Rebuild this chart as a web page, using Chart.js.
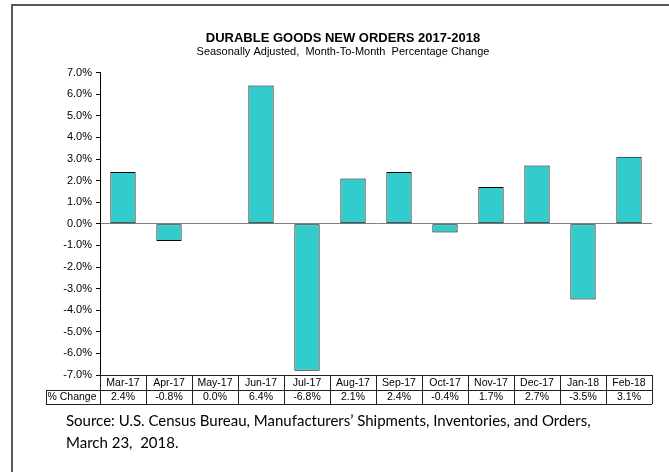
<!DOCTYPE html>
<html>
<head>
<meta charset="utf-8">
<script src="https://cdn.jsdelivr.net/npm/chart.js@4.4.0/dist/chart.umd.min.js"></script>
<style>
    html, body { margin: 0; padding: 0; background: #fff; overflow: hidden; }
    #wrap { position: relative; width: 669px; height: 472px; }
    #frame { position: absolute; left: 11px; top: 4px; width: 720px; height: 520px; border: 2px solid #595959; box-sizing: border-box; }
    #chart { position: absolute; left: 0; top: 0; }
</style>
</head>
<body>
<div id="wrap">
    <div id="frame"></div>
    <canvas id="chart" width="669" height="472"></canvas>
</div>
<script>
const months = ['Mar-17', 'Apr-17', 'May-17', 'Jun-17', 'Jul-17', 'Aug-17', 'Sep-17', 'Oct-17', 'Nov-17', 'Dec-17', 'Jan-18', 'Feb-18'];
const pctChange = [2.4, -0.8, 0.0, 6.4, -6.8, 2.1, 2.4, -0.4, 1.7, 2.7, -3.5, 3.1];
const rowLabel = '% Change';
const titleText = 'DURABLE GOODS NEW ORDERS 2017-2018';
const subtitleText = 'Seasonally Adjusted,  Month-To-Month  Percentage Change';
const sourceLines = [
    'Source: U.S. Census Bureau, Manufacturers\u2019 Shipments, Inventories, and Orders,',
    'March 23,  2018.'
];

const arial = 'Arial, "Liberation Sans", sans-serif';

// data table under the plot + source note
const tablePlugin = {
    id: 'dataTable',
    afterDraw(chart) {
        const ctx = chart.ctx;
        const x = chart.scales.x;
        const area = chart.chartArea;
        const colW = x.getPixelForValue(1) - x.getPixelForValue(0);
        const left = area.left;
        const right = area.right;
        const top = Math.round(area.bottom);
        const mid = top + 15;
        const bottom = mid + 14;
        const labelLeft = 46;

        ctx.save();
        ctx.strokeStyle = '#222';
        ctx.lineWidth = 1;
        ctx.beginPath();
        // horizontal lines
        ctx.moveTo(left, top + 0.5); ctx.lineTo(right, top + 0.5);
        ctx.moveTo(labelLeft, mid + 0.5); ctx.lineTo(right, mid + 0.5);
        ctx.moveTo(labelLeft, bottom + 0.5); ctx.lineTo(right, bottom + 0.5);
        // vertical lines
        ctx.moveTo(labelLeft + 0.5, mid); ctx.lineTo(labelLeft + 0.5, bottom);
        for (let i = 0; i <= months.length; i++) {
            const px = Math.round(left + i * colW) + 0.5;
            ctx.moveTo(px, top); ctx.lineTo(px, bottom);
        }
        ctx.stroke();

        ctx.fillStyle = '#000';
        ctx.font = '10.5px ' + arial;
        ctx.textBaseline = 'middle';
        ctx.textAlign = 'center';
        months.forEach((m, i) => {
            const cx = x.getPixelForValue(i);
            ctx.fillText(m, cx, top + 8);
            ctx.fillText(pctChange[i].toFixed(1) + '%', cx, mid + 7.5);
        });
        ctx.textAlign = 'left';
        ctx.fillText(rowLabel, labelLeft + 1.5, mid + 7.5, 51);

        ctx.font = '15px Lato, "Open Sans", sans-serif';
        ctx.fillText(sourceLines[0], 66, 421);
        ctx.fillText(sourceLines[1], 66, 443);
        ctx.restore();
    }
};

new Chart(document.getElementById('chart'), {
    type: 'bar',
    data: {
        labels: months,
        datasets: [{
            label: rowLabel,
            data: pctChange,
            backgroundColor: '#33CCCC',
            borderColor: '#000',
            borderWidth: 1,
            borderSkipped: false,
            categoryPercentage: 1,
            barPercentage: 0.55
        }]
    },
    options: {
        responsive: false,
        animation: false,
        layout: {
            padding: { top: 31, left: 34, right: 17, bottom: 97 }
        },
        plugins: {
            legend: { display: false },
            tooltip: { enabled: false },
            title: {
                display: true,
                text: titleText,
                color: '#000',
                font: { family: arial, size: 13, weight: 'bold', lineHeight: 1.2 },
                padding: { top: 0, bottom: 0 }
            },
            subtitle: {
                display: true,
                text: subtitleText,
                color: '#000',
                font: { family: arial, size: 11, lineHeight: 1.0 },
                padding: { top: 0, bottom: 15 }
            }
        },
        scales: {
            x: {
                display: false
            },
            y: {
                min: -7,
                max: 7,
                afterFit(scale) { scale.width = 66; },
                ticks: {
                    stepSize: 1,
                    padding: 4,
                    color: '#000',
                    font: { family: arial, size: 11 },
                    callback: v => v.toFixed(1) + '%'
                },
                grid: {
                    drawOnChartArea: true,
                    tickLength: 4,
                    tickColor: '#000',
                    color: ctx => (ctx.tick && ctx.tick.value === 0) ? '#808080' : 'rgba(0,0,0,0)'
                },
                border: { display: true, color: '#000', width: 1 }
            }
        }
    },
    plugins: [tablePlugin]
});
</script>
</body>
</html>
